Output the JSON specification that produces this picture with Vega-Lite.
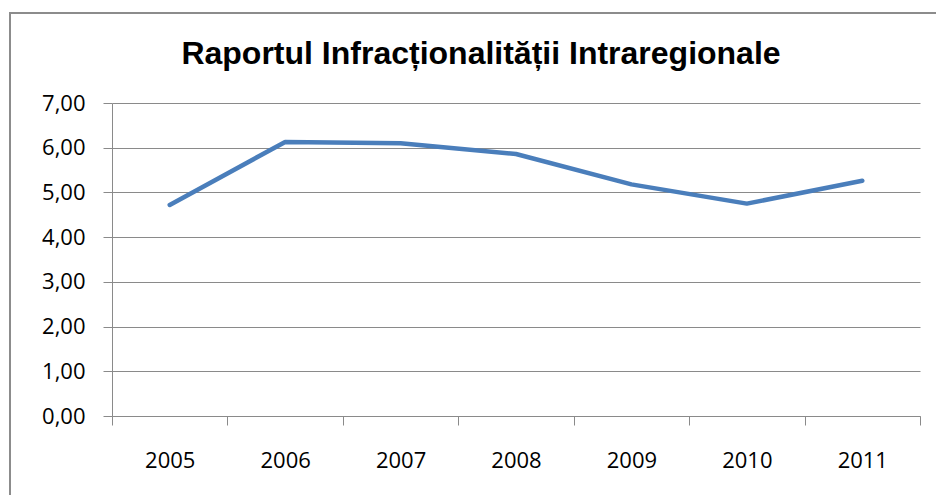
{
  "$schema": "https://vega.github.io/schema/vega-lite/v6.json",
  "width": 960,
  "height": 500,
  "autosize": {"type": "none"},
  "padding": {"left": 10, "top": 13, "right": 0, "bottom": 0},
  "background": "white",
  "title": {
    "text": "Raportul Infracționalității Intraregionale",
    "font": "Liberation Sans",
    "fontWeight": "bold",
    "fontSize": 32,
    "color": "#000000",
    "anchor": "middle",
    "frame": "group",
    "baseline": "alphabetic",
    "offset": 0,
    "dx": -9,
    "dy": 83
  },
  "data": {
    "values": [
      {"an": "2005", "raport": 4.72},
      {"an": "2006", "raport": 6.13},
      {"an": "2007", "raport": 6.10},
      {"an": "2008", "raport": 5.86},
      {"an": "2009", "raport": 5.18},
      {"an": "2010", "raport": 4.75},
      {"an": "2011", "raport": 5.26}
    ]
  },
  "mark": {
    "type": "line",
    "color": "#4a7ebb",
    "strokeWidth": 4.5,
    "strokeCap": "round",
    "strokeJoin": "round"
  },
  "encoding": {
    "x": {
      "field": "an",
      "type": "ordinal",
      "bandPosition": 0.5,
      "scale": {"type": "band", "paddingInner": 0, "paddingOuter": 0, "range": [102, 910]},
      "axis": {
        "title": null,
        "orient": "bottom",
        "offset": -97,
        "grid": false,
        "tickBand": "extent",
        "tickSize": 9,
        "tickColor": "#8a8a8a",
        "domainColor": "#8a8a8a",
        "labelAngle": 0,
        "labelPadding": 25,
        "labelFont": "Open Sans",
        "labelFontSize": 22,
        "labelColor": "#000000"
      }
    },
    "y": {
      "field": "raport",
      "type": "quantitative",
      "scale": {"domain": [0, 7], "nice": false, "zero": true, "range": [403, 90]},
      "axis": {
        "title": null,
        "orient": "left",
        "offset": -102,
        "values": [0, 1, 2, 3, 4, 5, 6, 7],
        "labelExpr": "replace(format(datum.value, '.2f'), '.', ',')",
        "grid": true,
        "gridColor": "#8a8a8a",
        "gridWidth": 1,
        "tickSize": 9,
        "tickColor": "#8a8a8a",
        "domainColor": "#8a8a8a",
        "labelPadding": 18,
        "labelFont": "Open Sans",
        "labelFontSize": 22,
        "labelColor": "#000000"
      }
    }
  },
  "config": {
    "view": {"stroke": "#8c8c8c", "strokeWidth": 2, "fill": "white"}
  }
}
